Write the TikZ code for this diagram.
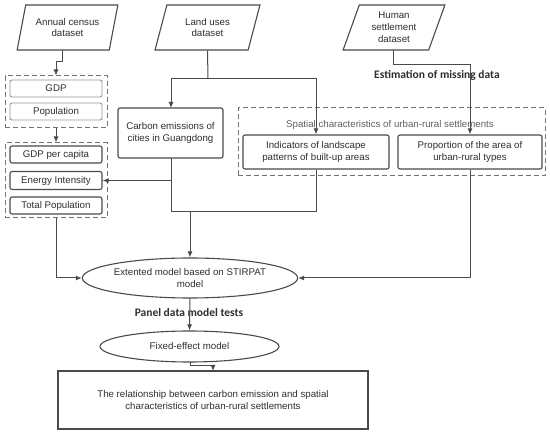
\documentclass[tikz,border=0pt]{standalone}
\usepackage{fontspec}
\setmainfont{Liberation Sans}
\newfontfamily\lblfont{Carlito}
\usetikzlibrary{shapes.geometric,arrows.meta}
\definecolor{ln}{HTML}{4A4A4A}
\definecolor{txt}{HTML}{2E2E2E}
\definecolor{lite}{HTML}{959595}
\definecolor{dsh}{HTML}{747474}
\definecolor{ttl}{HTML}{5E5E5E}
\begin{document}
\begin{tikzpicture}[x=1pt,y=-1pt,
  every node/.style={font=\fontsize{9.7}{11.8}\selectfont, text=txt, inner sep=0pt, align=center},
  conn/.style={draw=ln, line width=1pt, -{Latex[length=6pt,width=5pt]}},
  plainln/.style={draw=ln, line width=1pt},
  dataset/.style={trapezium, trapezium left angle=71, trapezium right angle=109, trapezium stretches=true,
    draw=ln, line width=1.1pt, minimum height=45},
  box/.style={draw=ln, line width=1.1pt, rounded corners=2pt},
  litebox/.style={draw=lite, line width=0.9pt, rounded corners=2pt},
  group/.style={draw=dsh, line width=1pt, dash pattern=on 5pt off 3pt},
  ell/.style={ellipse, draw=ln, line width=1.1pt},
  lbl/.style={font=\lblfont\bfseries\fontsize{11.5}{13}\selectfont, text=txt}
]
\useasboundingbox (0,0) rectangle (550,433);

% datasets
\node[dataset, minimum width=101] (ann) at (67.5,27.5) {Annual census\\dataset};
\node[dataset, minimum width=105] (land) at (207.5,27.5) {Land uses\\dataset};
\node[dataset, minimum width=102] (hum) at (394,27.5) {Human\\settlement\\dataset};

% left groups
\node[group, minimum width=102, minimum height=52] (g1) at (56,102) {};
\node[litebox, minimum width=92, minimum height=17] (gdp) at (56,88.5) {GDP};
\node[litebox, minimum width=92, minimum height=17] (pop) at (56,111.5) {Population};

\node[group, minimum width=102, minimum height=75] (g2) at (56,180.5) {};
\node[box, minimum width=92, minimum height=17] (gpc) at (56,154.5) {GDP per capita};
\node[box, minimum width=92, minimum height=18] (ei) at (56,180.5) {Energy Intensity};
\node[box, minimum width=92, minimum height=17] (tp) at (56,205.5) {Total Population};

% carbon
\node[box, minimum width=105, minimum height=50] (carb) at (170.5,133) {Carbon emissions of\\cities in Guangdong};

% spatial group
\node[group, minimum width=307, minimum height=68] (sg) at (391.5,142) {};
\node[text=ttl] (sgt) at (390,125) {Spatial characteristics of urban-rural settlements};
\node[box, minimum width=146, minimum height=34] (ind) at (316,152) {Indicators of landscape\\patterns of built-up areas};
\node[box, minimum width=144, minimum height=34] (prop) at (470,152) {Proportion of the area of\\urban-rural types};

% labels
\node[lbl] (est) at (437,75.5) {Estimation of missing data};
\node[lbl] (pan) at (189,313) {Panel data model tests};

% ellipses
\node[ell, minimum width=196, minimum height=40] (stir) at (190,278) {Extented model based on STIRPAT\\model};
\node[ell, minimum width=179, minimum height=31] (fix) at (189.5,346.5) {Fixed-effect model};

% result
\node[box, rounded corners=0pt, minimum width=310, minimum height=58] (res) at (213,400)
  {The relationship between carbon emission and spatial\\characteristics of urban-rural settlements};

% coordinates
\coordinate (annout) at (62,50);
\coordinate (landj) at (208,79);
\coordinate (carbtop) at (171,108);
\coordinate (carbbot) at (171,158);
\coordinate (j) at (190,212);
\coordinate (eiline) at (171,180.5);
\coordinate (humout) at (393,50);
\coordinate (fixout) at (190,362);
\coordinate (restop) at (213,371);

% connectors
\draw[conn] (annout) -- ++(0,12) -| (g1.north);
\draw[conn] (g1.south) -- (g2.north);
\draw[plainln] (land.south) -- (landj);
\draw[conn] (landj) -| (carbtop);
\draw[conn] (landj) -| (ind.north);
\draw[conn] (humout) -- ++(0,15) -| (prop.north);
\draw[plainln] (carbbot) |- (j);
\draw[plainln] (ind.south) |- (j);
\draw[conn] (eiline) -- (ei.east);
\draw[conn] (j) -- (stir.north);
\draw[conn] (g2.south) |- (stir.west);
\draw[conn] (prop.south) |- (stir.east);
\draw[conn] (stir.south) -- (fix.north);
\draw[conn] (fixout) -- ++(0,4) -| (restop);
\end{tikzpicture}
\end{document}
